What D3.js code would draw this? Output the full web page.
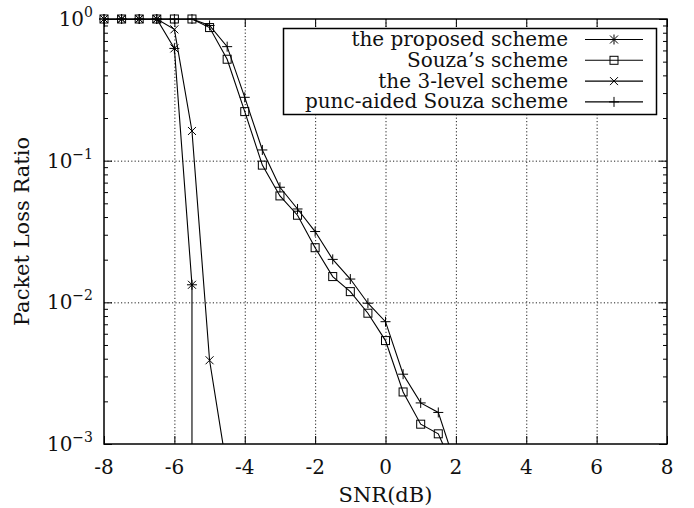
<!DOCTYPE html>
<html>
<head>
<meta charset="utf-8">
<script src="https://cdn.jsdelivr.net/npm/d3@7"></script>
<style>
  body { margin: 0; background: #fff; }
  text { font-family: "DejaVu Serif", serif; fill: #111; }
</style>
</head>
<body>
<svg id="chart" width="694" height="508"></svg>
<script>
var w = 694;
var h = 508;

// SNR points (dB), step 0.5
var snrProposed = [-8, -7.5, -7, -6.5, -6, -5.5, -5.5];
var plrProposed = [1, 1, 1, 1, 0.62, 0.0133, 0.00001];

var snrSouza = [-8, -7.5, -7, -6.5, -6, -5.5, -5, -4.5, -4, -3.5, -3, -2.5, -2, -1.5, -1, -0.5, 0, 0.5, 1, 1.5, 2];
var plrSouza = [1, 1, 1, 1, 1, 1, 0.87, 0.52, 0.222, 0.093, 0.0564, 0.0412, 0.0243, 0.0152, 0.0119, 0.00838, 0.00537, 0.00233, 0.00138, 0.00118, 0.00062];

var snr3Level = [-8, -7.5, -7, -6.5, -6, -5.5, -5, -4.5];
var plr3Level = [1, 1, 1, 1, 0.845, 0.162, 0.0039, 0.00065];

var snrPunc = [-8, -7.5, -7, -6.5, -6, -5.5, -5, -4.5, -4, -3.5, -3, -2.5, -2, -1.5, -1, -0.5, 0, 0.5, 1, 1.5, 2];
var plrPunc = [1, 1, 1, 1, 1, 1, 0.9, 0.638, 0.28, 0.119, 0.0649, 0.0456, 0.0316, 0.0201, 0.0146, 0.00986, 0.0073, 0.00311, 0.00195, 0.00167, 0.0007];

var seriesNames = ["the proposed scheme", "Souza\u2019s scheme", "the 3-level scheme", "punc-aided Souza scheme"];
var seriesMarks = ["star", "square", "cross", "plus"];

var xTicks = [-8, -6, -4, -2, 0, 2, 4, 6, 8];
var yDecades = [0, -1, -2, -3];

var mLeft = 104, mRight = 667, mTop = 19, mBottom = 444;

var svg = d3.select("#chart");

var x = d3.scaleLinear().domain([-8, 8]).range([mLeft, mRight]);
var y = d3.scaleLog().domain([1e-3, 1]).range([mBottom, mTop]);

var series = [
  { name: seriesNames[0], mark: seriesMarks[0], xs: snrProposed, ys: plrProposed },
  { name: seriesNames[1], mark: seriesMarks[1], xs: snrSouza, ys: plrSouza },
  { name: seriesNames[2], mark: seriesMarks[2], xs: snr3Level, ys: plr3Level },
  { name: seriesNames[3], mark: seriesMarks[3], xs: snrPunc, ys: plrPunc }
];

var defs = svg.append("defs");
defs.append("clipPath").attr("id", "plotclip")
  .append("rect").attr("x", mLeft - 8).attr("y", mTop - 8).attr("width", mRight - mLeft + 8).attr("height", mBottom - mTop + 8);
defs.append("clipPath").attr("id", "lineclip")
  .append("rect").attr("x", mLeft).attr("y", mTop).attr("width", mRight - mLeft).attr("height", mBottom - mTop);

// grid
var grid = svg.append("g").attr("stroke", "#222").attr("stroke-width", 1).attr("stroke-dasharray", "1.2,2.2");
grid.selectAll("line.gx").data(xTicks.slice(1, -1)).enter().append("line")
  .attr("x1", d => x(d) + 0.5).attr("x2", d => x(d) + 0.5)
  .attr("y1", mTop).attr("y2", mBottom);
grid.selectAll("line.gy").data(yDecades.slice(1, -1)).enter().append("line")
  .attr("x1", mLeft).attr("x2", mRight)
  .attr("y1", d => y(Math.pow(10, d)) + 0.5).attr("y2", d => y(Math.pow(10, d)) + 0.5);

// axes with ticks on both sides
var xAxisB = d3.axisBottom(x).tickValues(xTicks).tickSize(-8).tickFormat("");
var xAxisT = d3.axisTop(x).tickValues(xTicks).tickSize(-8).tickFormat("");
var yMinor = [];
yDecades.slice(1).forEach(function (e) {
  for (var k = 2; k <= 9; k++) yMinor.push(k * Math.pow(10, e));
});
var yMajor = yDecades.map(d => Math.pow(10, d));
var yAxisL = d3.axisLeft(y).tickValues(yMinor).tickSize(-4).tickFormat("");
var yAxisR = d3.axisRight(y).tickValues(yMinor).tickSize(-4).tickFormat("");
var yAxisLM = d3.axisLeft(y).tickValues(yMajor).tickSize(-8).tickFormat("");
var yAxisRM = d3.axisRight(y).tickValues(yMajor).tickSize(-8).tickFormat("");

function styleAxis(g) {
  g.select(".domain").remove();
  g.selectAll("line").attr("stroke", "#000").attr("stroke-width", 1);
}
svg.append("g").attr("transform", "translate(0," + mBottom + ")").call(xAxisB).call(styleAxis);
svg.append("g").attr("transform", "translate(0," + mTop + ")").call(xAxisT).call(styleAxis);
svg.append("g").attr("transform", "translate(" + mLeft + ",0)").call(yAxisL).call(styleAxis);
svg.append("g").attr("transform", "translate(" + mRight + ",0)").call(yAxisR).call(styleAxis);
svg.append("g").attr("transform", "translate(" + mLeft + ",0)").call(yAxisLM).call(styleAxis);
svg.append("g").attr("transform", "translate(" + mRight + ",0)").call(yAxisRM).call(styleAxis);

// frame
svg.append("rect").attr("x", mLeft).attr("y", mTop).attr("width", mRight - mLeft).attr("height", mBottom - mTop)
  .attr("fill", "none").attr("stroke", "#000").attr("stroke-width", 1.5);

// tick labels
svg.append("g").selectAll("text").data(xTicks).enter().append("text")
  .attr("x", d => x(d)).attr("y", 474)
  .attr("text-anchor", "middle").attr("font-size", 20)
  .text(d => d);

var yl = svg.append("g").selectAll("text").data(yDecades).enter().append("text")
  .attr("x", 93).attr("y", d => y(Math.pow(10, d)) + 7)
  .attr("text-anchor", "end").attr("font-size", 20);
yl.append("tspan").text("10");
yl.append("tspan").attr("dy", -9).attr("font-size", 14).text(d => d === 0 ? "0" : "\u2212" + (-d));

svg.append("text").attr("x", (mLeft + mRight) / 2).attr("y", 502)
  .attr("text-anchor", "middle").attr("font-size", 21).text("SNR(dB)");
svg.append("text").attr("transform", "translate(29," + ((mTop + mBottom) / 2) + ") rotate(-90)")
  .attr("text-anchor", "middle").attr("font-size", 21).text("Packet Loss Ratio");

// markers
function drawMark(g, type, cx, cy) {
  var s = 4;
  var p = g.append("g").attr("transform", "translate(" + cx + "," + cy + ")")
    .attr("stroke", "#000").attr("stroke-width", 1).attr("fill", "none");
  if (type === "square") {
    p.append("rect").attr("x", -s).attr("y", -s).attr("width", 2 * s).attr("height", 2 * s);
  }
  if (type === "plus" || type === "star") {
    p.append("line").attr("x1", -s - 1).attr("x2", s + 1).attr("y1", 0).attr("y2", 0);
    p.append("line").attr("x1", 0).attr("x2", 0).attr("y1", -s - 1).attr("y2", s + 1);
  }
  if (type === "cross" || type === "star") {
    p.append("line").attr("x1", -s).attr("x2", s).attr("y1", -s).attr("y2", s);
    p.append("line").attr("x1", -s).attr("x2", s).attr("y1", s).attr("y2", -s);
  }
}

var line = d3.line().x(d => x(d[0])).y(d => y(d[1]));
var lines = svg.append("g").attr("clip-path", "url(#lineclip)");
var marks = svg.append("g").attr("clip-path", "url(#plotclip)");
series.forEach(function (s) {
  var pts = s.xs.map((v, i) => [v, s.ys[i]]);
  lines.append("path").datum(pts).attr("d", line)
    .attr("fill", "none").attr("stroke", "#000").attr("stroke-width", 1.1);
  pts.forEach(function (p) {
    if (p[1] >= 1e-3) drawMark(marks, s.mark, x(p[0]), y(p[1]));
  });
});

// legend
var lg = svg.append("g");
lg.append("rect").attr("x", 283.5).attr("y", 28.5).attr("width", 373).attr("height", 86)
  .attr("fill", "#fff").attr("stroke", "#000").attr("stroke-width", 1.5);
series.forEach(function (s, i) {
  var ly = 39.5 + i * 20.8;
  lg.append("text").attr("x", 568).attr("y", ly + 6.5).attr("text-anchor", "end")
    .attr("font-size", 20).text(s.name);
  lg.append("line").attr("x1", 585).attr("x2", 643).attr("y1", ly).attr("y2", ly)
    .attr("stroke", "#000").attr("stroke-width", 1.1);
  drawMark(lg, s.mark, 614, ly);
});
</script>
</body>
</html>
